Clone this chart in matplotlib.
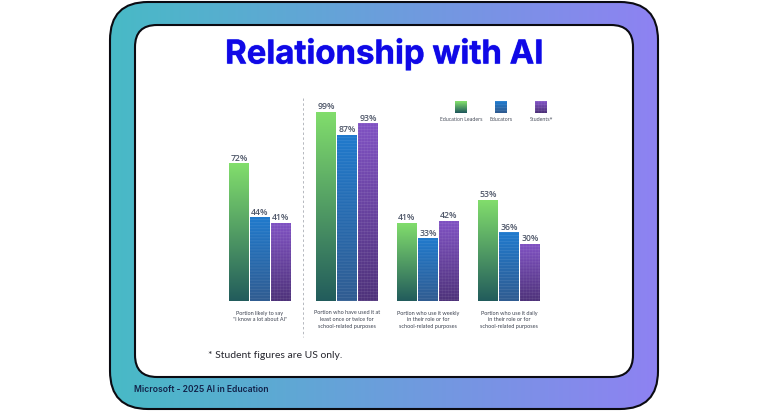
#!/bin/python
# -*- coding: utf-8 -*-

import numpy as np
import matplotlib
matplotlib.use('Agg')
import matplotlib.pyplot as plt
import matplotlib.patheffects as pe
from matplotlib.patches import FancyBboxPatch

title = "Relationship with AI"
footer = "Microsoft - 2025 AI in Education"
footnote = "* Student figures are US only."

series_names = ["Education Leaders", "Educators", "Students*"]
leaders = [72, 99, 41, 53]
educators = [44, 87, 33, 36]
students = [41, 93, 42, 30]
captions = [
    "Portion likely to say\n\"I know a lot about AI\"",
    "Portion who have used it at\nleast once or twice for\nschool-related purposes",
    "Portion who use it weekly\nin their role or for\nschool-related purposes",
    "Portion who use it daily\nin their role or for\nschool-related purposes",
]

W, H = 768, 412
GROUP_X = [260, 347, 428, 509]
COLORS = [
    ((130, 222, 108), (34, 92, 92), 'plain'),
    ((32, 122, 205), (48, 92, 145), 'stripes'),
    ((128, 82, 195), (78, 50, 122), 'grid'),
]


def texture(top, bottom, h, w, kind):
    top = np.array(top) / 255
    bottom = np.array(bottom) / 255
    t = np.linspace(0, 1, h)[:, None, None]
    img = np.repeat(top * (1 - t) + bottom * t, w, axis=1)
    if kind in ('stripes', 'grid'):
        img[::3, :, :] = img[::3, :, :] * 0.93 + 0.07
    if kind == 'grid':
        img[:, ::3, :] = img[:, ::3, :] * 0.96 + 0.04
    return img


fig = plt.figure(figsize=(W / 100, H / 100), dpi=100, facecolor='white')

# pixel canvas for the frame and the loose text
bg = fig.add_axes([0, 0, 1, 1])
bg.set_xlim(0, W)
bg.set_ylim(H, 0)
bg.axis('off')

outer = FancyBboxPatch((110 + 38, 2 + 38), 548 - 76, 407 - 76,
                       boxstyle="round,pad=38,rounding_size=38",
                       fc='none', ec='#0b0b12', lw=1.5, zorder=3)
bg.add_patch(outer)
grad = np.linspace(0, 1, 256)[None, :, None]
left = np.array((72, 186, 198)) / 255
right = np.array((142, 130, 242)) / 255
im = bg.imshow(left * (1 - grad) + right * grad, extent=(110, 658, 409, 2),
               aspect='auto', zorder=2)
im.set_clip_path(outer)
bg.set_xlim(0, W)
bg.set_ylim(H, 0)

inner = FancyBboxPatch((135 + 22, 25 + 22), 498 - 44, 352 - 44,
                       boxstyle="round,pad=22,rounding_size=22",
                       fc='white', ec='#0b0b12', lw=1.5, zorder=4)
bg.add_patch(inner)

t = bg.text(384, 54.5, title, family='Inter', weight='bold', fontsize=23.7,
            color='#1008e6', ha='center', va='center', zorder=6)
t.set_path_effects([pe.withStroke(linewidth=0.8, foreground='#a9b8ff'), pe.Normal()])

bg.text(134, 389, footer, family='Inter', weight='semibold', fontsize=6.2,
        color='#13234a', ha='left', va='center', zorder=6)
bg.text(208, 355, footnote, family='Lato', fontsize=7.45, color='#26262e',
        ha='left', va='center', zorder=6)

bg.plot([303, 303], [98, 337], color='#b5b8bf', lw=0.7, ls=(0, (2.5, 2.5)), zorder=5)

# legend swatches
for sx, name, (c_top, c_bot, kind) in zip([461, 501, 541], series_names, COLORS):
    bg.imshow(texture(c_top, c_bot, 12, 12, kind),
              extent=(sx - 6, sx + 6, 113, 101), aspect='auto', zorder=6)
    bg.text(sx, 119, name, family='Open Sans', fontsize=3.6, color='#3c4250',
            ha='center', va='center', zorder=6)
bg.set_xlim(0, W)
bg.set_ylim(H, 0)

# chart: y runs in percent, baseline at pixel 301, 100% at pixel 110
ax = fig.add_axes([0, (H - 301) / H, 1, 191 / H], zorder=5)
ax.patch.set_alpha(0)
ax.set_xlim(0, W)
ax.set_ylim(0, 100)
ax.axis('off')

for off, vals, (c_top, c_bot, kind) in zip([-21, 0, 21], [leaders, educators, students], COLORS):
    bars = ax.bar([x + off for x in GROUP_X], vals, width=20, color='none', zorder=2)
    for rect, v in zip(bars, vals):
        x0 = rect.get_x()
        h_px = int(round(v * 1.91))
        b_im = ax.imshow(texture(c_top, c_bot, h_px, 20, kind),
                         extent=(x0, x0 + rect.get_width(), 0, v),
                         aspect='auto', interpolation='bilinear', zorder=2)
        b_im.set_clip_path(rect)
        ax.annotate(f"{v}%", (x0 + 10, v), xytext=(0, 0.3), textcoords='offset points',
                    family='Open Sans', weight='semibold', fontsize=6.2,
                    color='#4f5769', ha='center', va='bottom', zorder=3)
ax.set_xlim(0, W)
ax.set_ylim(0, 100)

for x, cap in zip(GROUP_X, captions):
    bg.text(x, 310.5, cap, family='Lato', fontsize=4.0, color='#3c4250',
            ha='center', va='top', linespacing=1.45, zorder=6)

fig.savefig('out.png', dpi=100)
